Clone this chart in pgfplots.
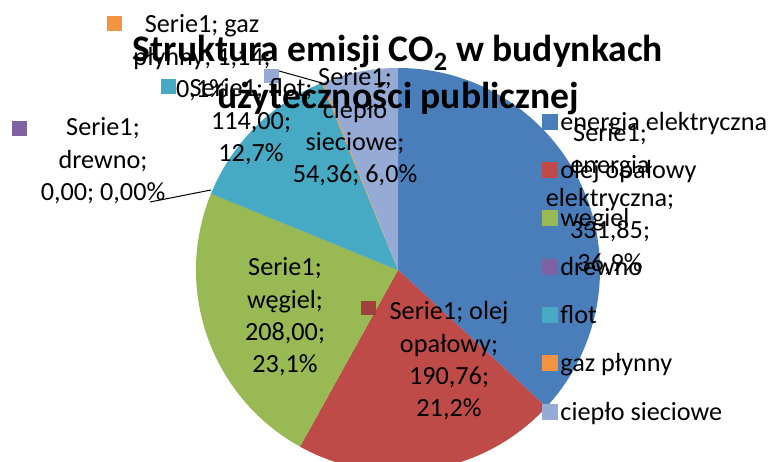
\documentclass[border=0pt]{standalone}
\usepackage{fontspec}
\setmainfont{Carlito}
\usepackage{pgfplots}
\usepackage{pgfplotstable}
\pgfplotsset{compat=1.18}

\definecolor{c0}{HTML}{4A7EBB}
\definecolor{c1}{HTML}{BE4B48}
\definecolor{c2}{HTML}{98B954}
\definecolor{c3}{HTML}{7E62A1}
\definecolor{c4}{HTML}{46AAC5}
\definecolor{c5}{HTML}{F39443}
\definecolor{c6}{HTML}{95ABD5}

\pgfplotstableread[col sep=comma]{
name,value
energia elektryczna,331.85
olej opałowy,190.76
węgiel,208.00
drewno,0.00
flot,114.00
gaz płynny,1.14
ciepło sieciowe,54.36
}\piedata

% total
\gdef\pietotal{0}
\foreach \i in {0,...,6}{%
  \pgfplotstablegetelem{\i}{value}\of\piedata
  \pgfmathsetmacro\tmp{\pietotal+\pgfplotsretval}%
  \global\let\pietotal\tmp
}
% angles (clockwise from 12 o'clock)
\gdef\curang{90}
\foreach \i in {0,...,6}{%
  \pgfplotstablegetelem{\i}{value}\of\piedata
  \pgfmathsetmacro\sweep{\pgfplotsretval/\pietotal*360}%
  \pgfmathsetmacro\endang{\curang-\sweep}%
  \expandafter\xdef\csname pieS\i\endcsname{\curang}%
  \expandafter\xdef\csname pieE\i\endcsname{\endang}%
  \global\let\curang\endang
}

\begin{document}
\begin{tikzpicture}
\begin{axis}[
  hide axis,
  scale only axis,
  width=774bp, height=462bp,
  xmin=0, xmax=774, ymin=0, ymax=462,
  legend image code/.code={\fill[#1] (0bp,-7bp) rectangle (15bp,8bp);},
  legend style={at={(rel axis cs:0.7003,0.7882)}, anchor=north west,
    draw=none, fill=none, inner sep=0pt, outer sep=0pt,
    column sep=3bp, row sep=0pt,
    font=\fontsize{26.3}{30}\selectfont,
    nodes={inner sep=0pt, minimum height=48.3bp}},
  legend cell align=left,
]
\pgfplotsforeachungrouped \i in {0,...,6}{%
  \edef\piecmd{\noexpand\fill[c\i] (axis cs:398,192) -- ++(\csname pieS\i\endcsname:202bp) arc[start angle=\csname pieS\i\endcsname, end angle=\csname pieE\i\endcsname, radius=202bp] -- cycle;}%
  \piecmd
}

% title
\node[font=\bfseries\fontsize{37.7}{47}\selectfont, align=center] at (axis cs:398,387)
  {Struktura emisji CO\textsubscript{2} w budynkach\\użyteczności publicznej};

% leader lines
\draw[black, line width=1bp] (axis cs:279,391) -- (axis cs:322,379);
\draw[black, line width=1bp] (axis cs:150,260) -- (axis cs:211,272);

% legend-key squares in labels
\fill[c5] (axis cs:107,446) rectangle (axis cs:122,431);
\fill[c4] (axis cs:161,383) rectangle (axis cs:176,368);
\fill[c6] (axis cs:264,393) rectangle (axis cs:279,379);
\fill[c3] (axis cs:12,341) rectangle (axis cs:27,326);
\fill[c1!85!black] (axis cs:361,161) rectangle (axis cs:376,147);

% data labels
\begin{scope}[every node/.style={font=\fontsize{26.3}{32.5}\selectfont, align=center, inner sep=0pt}]
\node at (axis cs:202,404) {Serie1; gaz\\płynny; 1,14;\\0,1\%};
\node at (axis cs:251,340) {Serie1; flot;\\114,00;\\12,7\%};
\node at (axis cs:355,335) {Serie1;\\ciepło\\sieciowe;\\54,36; 6,0\%};
\node at (axis cs:103,301) {Serie1;\\drewno;\\0,00; 0,00\%};
\node at (axis cs:285,145) {Serie1;\\węgiel;\\208,00;\\23,1\%};
\node at (axis cs:449,101) {Serie1; olej\\opałowy;\\190,76;\\21,2\%};
\node at (axis cs:610,263) {Serie1;\\energia\\elektryczna;\\331,85;\\36,9\%};
\end{scope}

\addlegendimage{c0}\addlegendentry{energia elektryczna}
\addlegendimage{c1}\addlegendentry{olej opałowy}
\addlegendimage{c2}\addlegendentry{węgiel}
\addlegendimage{c3}\addlegendentry{drewno}
\addlegendimage{c4}\addlegendentry{flot}
\addlegendimage{c5}\addlegendentry{gaz płynny}
\addlegendimage{c6}\addlegendentry{ciepło sieciowe}
\end{axis}
\pgfresetboundingbox
\path[use as bounding box] (current axis.south west) rectangle (current axis.north east);
\end{tikzpicture}
\end{document}
